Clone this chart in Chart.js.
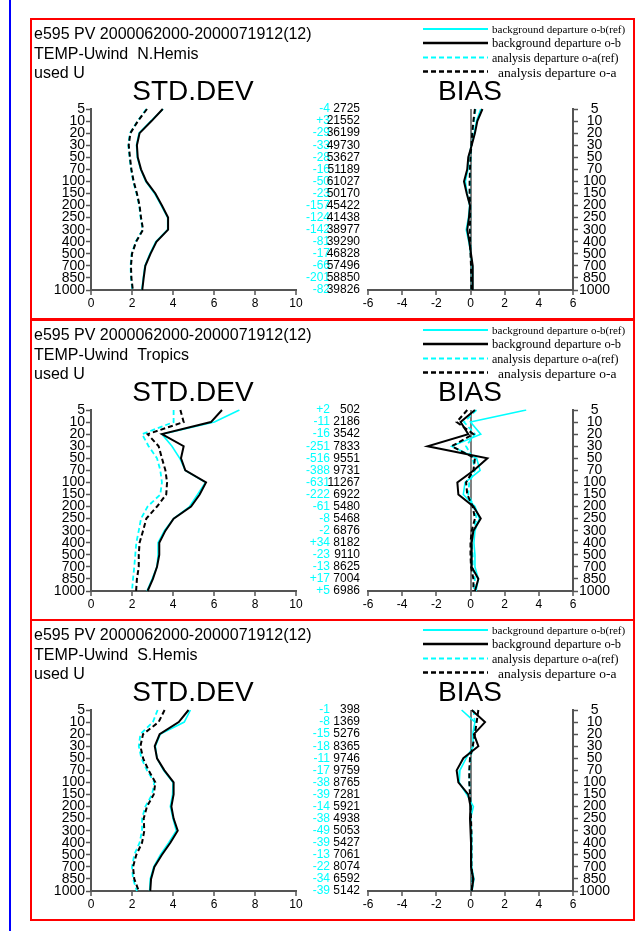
<!DOCTYPE html>
<html>
<head>
<meta charset="utf-8">
<script src="https://cdn.jsdelivr.net/npm/chart.js@4.4.0/dist/chart.umd.min.js"></script>
<style>
body { margin: 0; background: #fff; }
#page { position: relative; width: 642px; height: 931px; overflow: hidden; }
.blue { position: absolute; left: 9px; top: 0; width: 2px; height: 931px; background: #0000ff; }
.box { position: absolute; left: 30px; width: 605px; height: 302px; border: 2px solid #ff0000; box-sizing: border-box; }
canvas { position: absolute; left: 31px; }
</style>
</head>
<body>
<div id="page"><div class="blue"></div></div>
<script>
// pressure levels (hPa), top to bottom
var levels = ['5', '10', '20', '30', '50', '70', '100', '150', '200', '250', '300', '400', '500', '700', '850', '1000'];

// N.Hemis
var nhStdObRef = [3.52, 2.92, 2.34, 2.22, 2.26, 2.42, 2.67, 3.10, 3.43, 3.74, 3.74, 3.16, 2.87, 2.63, 2.55, 2.48];
var nhStdOb    = [3.50, 2.95, 2.37, 2.24, 2.28, 2.44, 2.70, 3.14, 3.46, 3.76, 3.76, 3.19, 2.90, 2.65, 2.57, 2.50];
var nhStdOaRef = [2.70, 2.27, 1.90, 1.82, 1.88, 1.95, 2.06, 2.22, 2.35, 2.42, 2.52, 2.18, 1.98, 1.93, 1.95, 2.02];
var nhStdOa    = [2.73, 2.29, 1.92, 1.84, 1.90, 1.97, 2.08, 2.24, 2.37, 2.44, 2.54, 2.20, 2.00, 1.95, 1.97, 2.04];
var nhBiasObRef = [0.60, 0.35, 0.22, 0.05, -0.10, -0.15, -0.30, -0.20, -0.05, -0.12, -0.25, -0.10, 0.02, 0.10, 0.12, 0.12];
var nhBiasOb    = [0.70, 0.40, 0.26, 0.07, -0.13, -0.19, -0.38, -0.22, -0.03, -0.09, -0.19, -0.07, 0.03, 0.13, 0.13, 0.13];
var nhBiasOaRef = [0.30, 0.20, 0.12, 0.06, 0.01, -0.02, -0.04, -0.04, -0.01, -0.01, -0.03, -0.01, 0.01, 0.04, 0.05, 0.06];
var nhBiasOa    = [0.26, 0.17, 0.10, 0.05, 0.00, -0.03, -0.05, -0.05, -0.02, -0.02, -0.04, -0.02, 0.00, 0.03, 0.04, 0.05];
var nhDiff  = ['-4', '+3', '-29', '-33', '-28', '-16', '-50', '-23', '-157', '-124', '-142', '-81', '-17', '-66', '-201', '-82'];
var nhCount = ['2725', '21552', '36199', '49730', '53627', '51189', '61027', '50170', '45422', '41438', '38977', '39290', '46828', '57496', '58850', '39826'];

// Tropics
var trStdObRef = [7.24, 6.02, 3.46, 3.95, 4.33, 4.60, 5.58, 5.20, 4.81, 4.03, 3.58, 3.27, 3.27, 3.22, 2.98, 2.73];
var trStdOb    = [6.39, 5.85, 3.46, 4.52, 4.39, 4.60, 5.61, 5.30, 4.88, 4.03, 3.63, 3.33, 3.33, 3.22, 3.02, 2.76];
var trStdOaRef = [4.03, 4.03, 2.49, 2.81, 3.22, 3.38, 3.46, 3.38, 2.76, 2.44, 2.33, 2.21, 2.16, 2.11, 2.05, 2.00];
var trStdOa    = [4.36, 4.52, 2.76, 3.30, 3.46, 3.63, 3.71, 3.67, 3.22, 2.70, 2.54, 2.37, 2.33, 2.33, 2.24, 2.20];
var trBiasObRef = [3.26, 0.00, 0.60, -1.10, 0.36, 0.56, -0.32, -0.42, 0.26, 0.52, 0.26, 0.20, 0.26, 0.26, 0.46, 0.32];
var trBiasOb    = [0.26, -0.58, -0.13, -2.51, 0.99, 0.20, -0.77, -0.71, 0.17, 0.60, 0.17, 0.07, 0.07, 0.07, 0.46, 0.26];
var trBiasOaRef = [0.35, -0.38, 0.26, -0.26, 0.13, 0.26, -0.07, -0.13, 0.20, 0.36, 0.17, 0.07, 0.13, 0.13, 0.26, 0.20];
var trBiasOa    = [-0.19, -0.81, 0.17, -1.10, 0.26, 0.17, -0.26, -0.19, 0.13, 0.26, 0.07, 0.00, 0.00, 0.03, 0.17, 0.17];
var trDiff  = ['+2', '-11', '-16', '-251', '-516', '-388', '-631', '-222', '-61', '-8', '-2', '+34', '-23', '-13', '+17', '+5'];
var trCount = ['502', '2186', '3542', '7833', '9551', '9731', '11267', '6922', '5480', '5468', '6876', '8182', '9110', '8625', '7004', '6986'];

// S.Hemis
var shStdObRef = [4.85, 4.55, 3.38, 3.14, 3.22, 3.54, 4.00, 3.98, 3.87, 4.00, 4.16, 3.79, 3.38, 3.06, 2.89, 2.86];
var shStdOb    = [4.76, 4.28, 3.35, 3.11, 3.22, 3.58, 4.03, 4.03, 3.92, 4.03, 4.23, 3.87, 3.46, 3.09, 2.93, 2.89];
var shStdOaRef = [3.25, 3.02, 2.41, 2.33, 2.46, 2.73, 3.09, 2.98, 2.65, 2.49, 2.49, 2.37, 2.11, 2.00, 2.05, 2.24];
var shStdOa    = [3.59, 3.30, 2.54, 2.41, 2.54, 2.81, 3.14, 3.06, 2.73, 2.57, 2.60, 2.49, 2.21, 2.05, 2.11, 2.33];
var shBiasObRef = [-0.52, 0.26, 0.13, 0.17, -0.26, -0.62, -0.66, -0.22, 0.17, 0.00, 0.03, 0.07, 0.07, 0.07, 0.20, 0.09];
var shBiasOb    = [0.07, 0.85, 0.20, 0.46, -0.42, -0.81, -0.71, -0.13, 0.00, -0.03, 0.00, 0.03, 0.03, 0.03, 0.17, 0.07];
var shBiasOaRef = [0.17, 0.26, 0.20, 0.13, 0.00, -0.07, -0.07, -0.02, 0.01, 0.03, 0.04, 0.05, 0.05, 0.05, 0.10, 0.06];
var shBiasOa    = [0.46, 0.36, 0.26, 0.13, -0.03, -0.07, -0.07, -0.03, 0.00, 0.03, 0.05, 0.05, 0.05, 0.05, 0.13, 0.07];
var shDiff  = ['-1', '-8', '-15', '-18', '-11', '-17', '-38', '-39', '-14', '-38', '-49', '-39', '-13', '-22', '-34', '-39'];
var shCount = ['398', '1369', '5276', '8365', '9746', '9759', '8765', '7281', '5921', '4938', '5053', '5427', '7061', '8074', '6592', '5142'];

var seriesNames = ['background departure o-b(ref)', 'background departure o-b', 'analysis departure o-a(ref)', 'analysis departure o-a'];
var titleLine1 = 'e595 PV 2000062000-2000071912(12)';

Chart.defaults.font.family = "'Liberation Sans', Arial, sans-serif";
Chart.defaults.color = '#000';

var CYAN = '#00ffff';
var AXIS = '#555555';

function makeDatasets(obRef, ob, oaRef, oa) {
    return [
        { label: seriesNames[0], data: obRef, borderColor: CYAN, borderWidth: 1.6, order: 1 },
        { label: seriesNames[1], data: ob, borderColor: '#000', borderWidth: 2, order: 0 },
        { label: seriesNames[2], data: oaRef, borderColor: CYAN, borderWidth: 1.8, borderDash: [5, 3], order: 1 },
        { label: seriesNames[3], data: oa, borderColor: '#000', borderWidth: 2, borderDash: [5, 3], order: 0 }
    ];
}

function yScale(pos) {
    return {
        type: 'category',
        position: pos,
        offset: false,
        grid: { drawOnChartArea: false, tickLength: 5, tickColor: AXIS, tickWidth: 1.5 },
        border: { display: true, color: AXIS, width: 2 },
        ticks: { autoSkip: false, padding: 1, font: { size: 14 }, crossAlign: pos === 'right' ? 'center' : 'near' },
        afterFit: function(s) { s.width = 60; }
    };
}

function xScale(min, max, zeroLine) {
    return {
        type: 'linear',
        min: min,
        max: max,
        grid: {
            drawOnChartArea: zeroLine,
            color: function(c) { return (zeroLine && c.tick && c.tick.value === 0) ? '#808080' : 'rgba(0,0,0,0)'; },
            lineWidth: 2,
            tickLength: 5,
            tickColor: AXIS,
            tickWidth: 1.5
        },
        border: { display: true, color: AXIS, width: 2 },
        ticks: { stepSize: 2, padding: 1, maxRotation: 0, font: { size: 12 } },
        afterFit: function(s) { s.height = 29; }
    };
}

var stdDecor = {
    id: 'stdDecor',
    afterDraw: function(chart, args, o) {
        var ctx = chart.ctx;
        ctx.save();
        ctx.fillStyle = '#000';
        ctx.textBaseline = 'middle';
        ctx.textAlign = 'left';
        ctx.font = "16px 'Liberation Sans', Arial";
        ctx.fillText(titleLine1, 3, 16);
        ctx.fillText(o.region, 3, 36);
        ctx.fillText('used U', 3, 55);
        ctx.textAlign = 'center';
        ctx.font = "28px 'Liberation Sans', Arial";
        ctx.fillText('STD.DEV', 162, 73);
        ctx.font = "12px 'Liberation Sans', Arial";
        ctx.textAlign = 'right';
        var ys = chart.scales.y;
        for (var i = 0; i < levels.length; i++) {
            var y = ys.getPixelForValue(i);
            ctx.fillStyle = CYAN;
            ctx.fillText(o.diff[i], 299, y);
            ctx.fillStyle = '#000';
            ctx.fillText(o.count[i], 329, y);
        }
        ctx.restore();
    }
};

var biasDecor = {
    id: 'biasDecor',
    afterDraw: function(chart) {
        var ctx = chart.ctx;
        ctx.save();
        ctx.fillStyle = '#000';
        ctx.textBaseline = 'middle';
        ctx.textAlign = 'center';
        ctx.font = "28px 'Liberation Sans', Arial";
        ctx.fillText('BIAS', 439, 73);
        // legend
        var sizes = [11, 12.5, 12, 13.5];
        var textX = [461, 461, 461, 467];
        var lineY = [10, 24, 38.5, 52.5];
        var textY = [11, 25, 40, 54];
        chart.data.datasets.forEach(function(ds, i) {
            ctx.beginPath();
            ctx.strokeStyle = ds.borderColor;
            ctx.lineWidth = ds.borderColor === CYAN ? 1.8 : 2.4;
            ctx.setLineDash(ds.borderDash || []);
            ctx.moveTo(392, lineY[i]);
            ctx.lineTo(457, lineY[i]);
            ctx.stroke();
            ctx.setLineDash([]);
            ctx.textAlign = 'left';
            ctx.font = sizes[i] + "px 'Liberation Serif', 'Times New Roman', serif";
            ctx.fillText(ds.label, textX[i], textY[i]);
        });
        ctx.restore();
    }
};

var panels = [
    { region: 'TEMP-Uwind  N.Hemis', std: [nhStdObRef, nhStdOb, nhStdOaRef, nhStdOa], bias: [nhBiasObRef, nhBiasOb, nhBiasOaRef, nhBiasOa], diff: nhDiff, count: nhCount },
    { region: 'TEMP-Uwind  Tropics', std: [trStdObRef, trStdOb, trStdOaRef, trStdOa], bias: [trBiasObRef, trBiasOb, trBiasOaRef, trBiasOa], diff: trDiff, count: trCount },
    { region: 'TEMP-Uwind  S.Hemis', std: [shStdObRef, shStdOb, shStdOaRef, shStdOa], bias: [shBiasObRef, shBiasOb, shBiasOaRef, shBiasOa], diff: shDiff, count: shCount }
];
var panelTops = [19, 320, 620];

var page = document.getElementById('page');

panels.forEach(function(p, k) {
    var box = document.createElement('div');
    box.className = 'box';
    box.style.top = (panelTops[k] - 1) + 'px';
    page.appendChild(box);

    var c1 = document.createElement('canvas');
    c1.width = 602; c1.height = 300;
    c1.style.top = panelTops[k] + 'px';
    page.appendChild(c1);
    var c2 = document.createElement('canvas');
    c2.width = 602; c2.height = 300;
    c2.style.top = panelTops[k] + 'px';
    page.appendChild(c2);

    var base = {
        responsive: false,
        animation: false,
        devicePixelRatio: 1,
        indexAxis: 'y',
        elements: { point: { radius: 0 }, line: { tension: 0, fill: false } },
        events: []
    };

    new Chart(c1.getContext('2d'), {
        type: 'line',
        data: { labels: levels, datasets: makeDatasets(p.std[0], p.std[1], p.std[2], p.std[3]) },
        options: Object.assign({}, base, {
            layout: { padding: { left: 0, top: 90, right: 337, bottom: 0 } },
            scales: { x: xScale(0, 10, false), y: yScale('left') },
            plugins: { legend: { display: false }, tooltip: { enabled: false },
                stdDecor: { region: p.region, diff: p.diff, count: p.count } }
        }),
        plugins: [stdDecor]
    });

    new Chart(c2.getContext('2d'), {
        type: 'line',
        data: { labels: levels, datasets: makeDatasets(p.bias[0], p.bias[1], p.bias[2], p.bias[3]) },
        options: Object.assign({}, base, {
            layout: { padding: { left: 337, top: 90, right: 0, bottom: 0 } },
            scales: { x: xScale(-6, 6, true), y: yScale('right') },
            plugins: { legend: { display: false }, tooltip: { enabled: false } }
        }),
        plugins: [biasDecor]
    });
});
</script>
</body>
</html>
